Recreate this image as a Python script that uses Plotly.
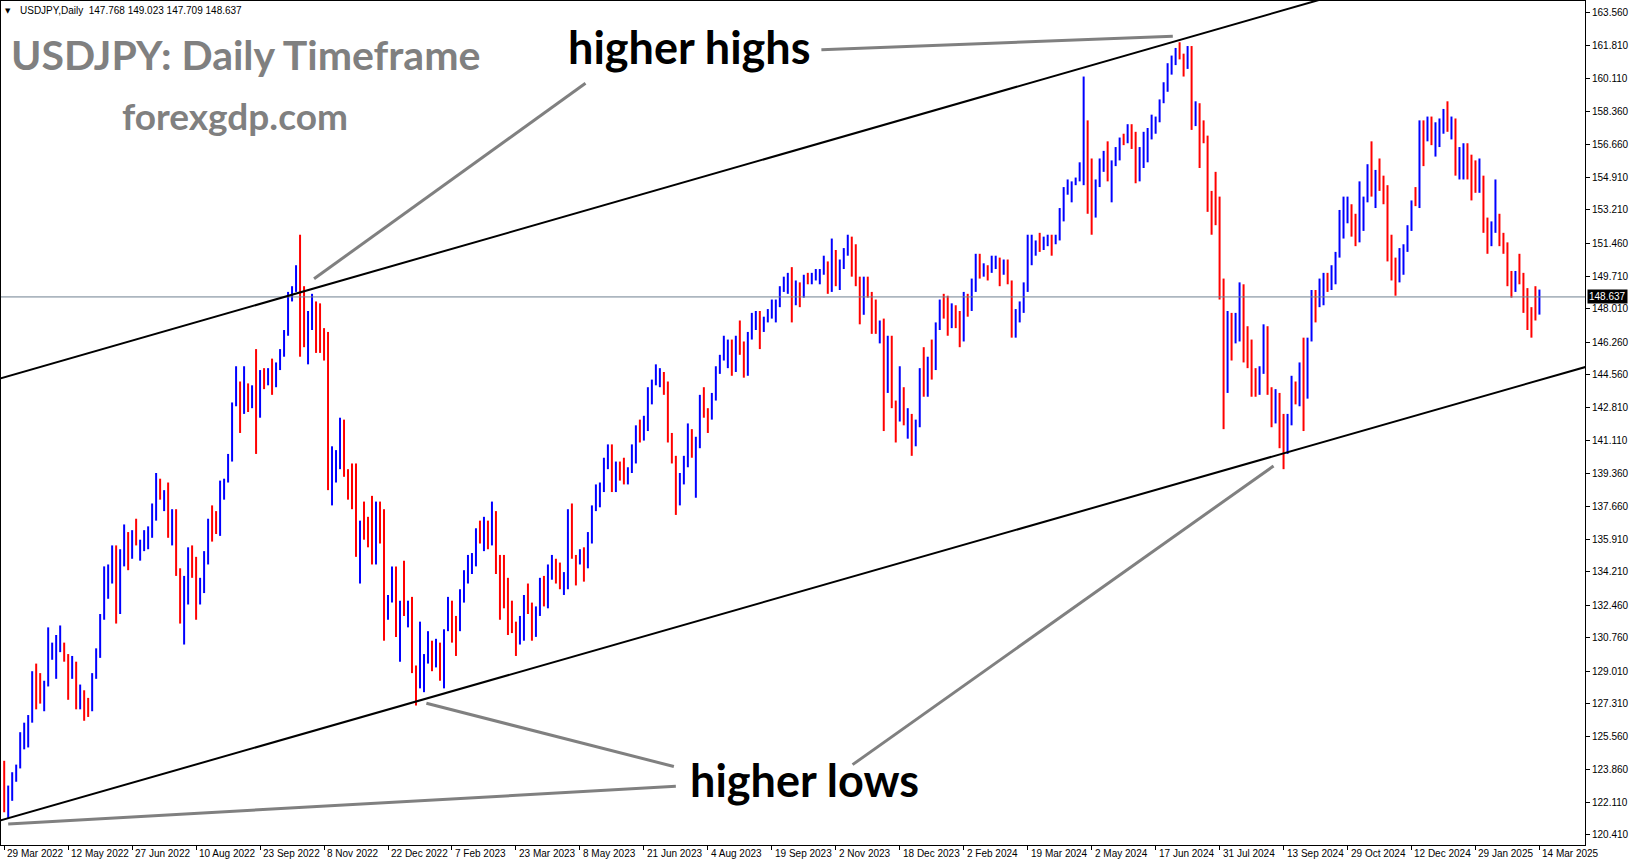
import plotly.graph_objects as go

# ---------------- data (USDJPY, each bar = 2 trading days) ----------------
date_labels = ["29 Mar 2022", "12 May 2022", "27 Jun 2022", "10 Aug 2022", "23 Sep 2022",
               "8 Nov 2022", "22 Dec 2022", "7 Feb 2023", "23 Mar 2023", "8 May 2023",
               "21 Jun 2023", "4 Aug 2023", "19 Sep 2023", "2 Nov 2023", "18 Dec 2023",
               "2 Feb 2024", "19 Mar 2024", "2 May 2024", "17 Jun 2024", "31 Jul 2024",
               "13 Sep 2024", "29 Oct 2024", "12 Dec 2024", "29 Jan 2025", "14 Mar 2025"]
bars_per_label = 16

price_ticks = [163.560, 161.810, 160.110, 158.360, 156.660, 154.910, 153.210, 151.460, 149.710,
               148.010, 146.260, 144.560, 142.810, 141.110, 139.360, 137.660, 135.910, 134.210,
               132.460, 130.760, 129.010, 127.310, 125.560, 123.860, 122.110, 120.410]

last_price = 148.637
header_text = "USDJPY,Daily\u00a0\u00a0147.768 149.023 147.709 148.637"

open_ = [
    123.8,121.8,122.5,123.6,124.0,125.4,125.6,126.4,128.9,128.4,128.1,128.4,129.8,130.1,130.2,130.3,
    129.9,129.2,129.4,127.8,127.9,127.3,127.1,128.7,129.9,131.9,134.2,134.4,135.5,132.2,135.1,136.2,
    135.2,136.1,135.7,135.8,135.9,136.1,137.4,138.9,138.2,138.3,136.1,137.0,134.3,131.6,133.8,135.0,
    134.2,133.0,133.3,134.9,136.9,136.8,136.6,138.8,139.0,140.2,143.0,144.1,142.8,143.1,142.9,143.7,
    142.4,144.7,144.2,144.7,144.1,145.1,145.6,146.8,148.7,149.0,150.1,148.9,146.4,147.5,148.2,148.0,
    146.6,146.4,138.8,139.3,140.2,141.8,139.5,139.2,138.7,135.3,136.7,136.6,136.5,135.6,137.8,136.9,
    132.4,132.9,134.4,131.1,132.4,132.1,132.2,129.2,128.5,128.9,129.6,130.2,130.1,130.4,128.9,131.2,
    132.6,131.4,131.3,133.1,133.9,134.2,134.9,136.4,136.2,136.8,135.9,137.3,135.0,134.2,133.7,131.5,
    131.4,130.7,130.9,132.7,132.5,131.3,132.2,133.7,132.6,134.5,134.7,134.2,133.7,134.0,137.4,135.0,
    134.8,135.2,134.5,136.1,137.6,137.9,138.6,139.9,140.4,139.3,139.9,139.6,139.0,139.6,140.0,141.8,
    141.5,141.9,143.5,144.2,144.3,144.5,144.1,141.3,140.1,138.8,139.0,140.1,141.5,140.4,141.2,143.3,
    142.6,142.5,143.4,144.9,145.5,146.1,146.2,144.8,146.4,145.9,145.5,146.5,147.7,147.8,147.1,147.4,
    147.6,148.3,148.4,149.0,149.3,149.8,149.0,149.3,148.7,149.8,149.5,149.8,149.9,150.0,150.4,149.1,
    150.9,149.4,150.4,151.0,151.7,151.3,149.6,148.4,149.5,148.7,147.2,146.8,147.2,144.1,145.9,142.9,
    142.2,143.8,142.1,142.4,141.5,142.0,144.6,144.2,145.1,144.9,147.2,148.2,148.1,147.5,148.1,147.6,
    146.4,148.7,148.0,149.3,150.8,149.9,150.1,150.0,150.5,150.6,149.9,150.5,149.4,147.1,147.7,148.3,
    149.1,151.2,151.4,151.5,151.3,151.6,151.7,151.6,151.8,153.2,154.2,154.4,154.6,154.8,155.6,156.4,
    155.0,152.9,154.6,155.5,156.2,154.9,155.7,156.2,156.9,156.8,157.6,157.2,154.8,155.6,157.0,157.2,
    157.4,157.9,158.9,159.7,160.8,160.9,161.5,161.3,160.8,161.7,157.8,158.3,157.4,157.0,153.9,153.7,
    152.7,149.4,144.2,146.7,146.6,146.8,149.2,146.4,145.2,144.4,143.9,144.9,146.9,143.7,142.3,143.4,
    142.4,140.6,142.3,143.9,143.2,144.8,143.6,146.4,148.7,148.2,148.6,149.7,149.2,149.5,150.8,152.3,
    153.3,153.4,152.9,151.6,152.9,153.7,155.4,154.3,154.6,154.5,154.2,151.1,149.8,149.6,150.1,151.2,
    152.3,153.6,153.5,157.4,157.1,157.9,156.9,157.5,157.6,158.3,157.7,157.9,155.2,155.6,156.5,156.0,
    155.5,154.3,154.7,152.6,151.4,152.1,152.9,151.5,151.4,149.3,149.0,149.8,149.5,149.0,148.0,147.8,
    147.768]
high = [
    124.3,123.0,123.7,124.1,125.8,126.3,126.7,129.0,129.4,128.9,128.5,131.3,130.5,130.9,131.4,130.5,
    129.9,129.8,129.5,128.3,128.0,127.6,128.9,130.2,132.0,134.5,134.6,135.6,135.6,135.4,136.7,136.3,
    136.4,137.0,135.9,136.4,136.6,137.8,139.4,139.1,138.5,138.9,137.5,137.5,134.4,134.0,135.5,135.6,
    135.0,133.9,135.3,137.0,137.7,137.4,139.0,139.1,140.4,143.1,145.0,144.2,145.0,144.1,144.0,145.9,
    144.8,144.9,144.9,145.4,145.2,145.9,146.9,148.9,149.2,150.3,151.9,149.2,147.9,148.8,148.4,148.3,
    147.0,146.8,140.8,140.6,142.3,142.2,139.6,139.9,139.9,136.9,137.9,137.1,138.2,137.9,137.9,137.5,
    133.0,134.5,134.5,132.7,134.8,132.7,132.9,129.3,131.6,129.9,131.1,130.6,130.7,130.5,131.2,132.9,
    132.7,131.9,133.3,134.3,135.1,135.2,136.5,136.9,137.1,136.9,137.9,137.4,135.1,135.1,133.9,132.7,
    131.6,131.9,133.0,133.6,132.6,132.4,133.9,134.0,134.6,135.1,134.9,134.7,134.2,137.5,137.8,135.1,
    135.4,135.5,136.3,137.7,138.8,138.9,140.2,140.9,140.9,140.0,140.0,140.2,139.7,140.9,141.9,142.2,
    142.4,143.9,144.3,145.1,144.9,144.7,144.2,141.5,140.3,139.4,140.3,142.0,141.7,141.3,143.5,143.9,
    142.8,143.6,145.0,145.6,146.6,146.4,146.4,146.6,147.4,146.3,146.8,147.8,147.9,147.9,147.6,148.0,
    148.5,148.5,149.2,149.7,149.9,150.2,149.5,149.4,149.8,149.9,149.9,150.1,150.1,150.8,150.5,151.7,
    151.1,150.6,151.2,151.9,151.8,151.4,149.7,149.7,149.7,148.9,148.5,147.4,147.5,146.6,146.6,143.2,
    145.0,143.9,142.8,142.5,142.2,144.9,146.0,145.5,146.4,147.3,148.5,148.8,148.7,148.3,148.2,147.9,
    148.9,148.8,149.6,150.9,150.9,150.4,150.3,150.8,150.8,150.7,150.6,150.6,149.5,148.0,148.4,149.4,
    151.9,151.9,151.6,152.0,151.8,151.9,151.9,151.9,153.3,154.4,154.8,154.7,154.9,155.7,160.2,157.9,
    155.9,154.8,155.9,156.3,156.8,155.8,156.5,157.0,157.2,157.7,157.7,157.3,156.5,157.3,157.5,158.2,
    158.1,159.0,159.9,160.9,161.3,161.7,162.0,161.4,161.8,161.8,158.9,158.8,157.9,157.1,154.2,155.2,
    153.9,149.6,147.9,147.8,147.8,149.4,149.3,147.1,146.4,144.9,145.0,147.2,147.1,143.9,143.8,143.6,
    142.5,142.5,144.5,144.2,145.2,146.5,146.5,149.0,149.0,149.6,149.9,149.9,150.3,151.0,153.2,153.9,
    153.9,153.5,153.0,154.7,153.9,155.6,156.8,155.3,155.9,155.0,154.5,151.9,150.7,151.2,151.4,152.4,
    153.7,154.4,157.9,157.9,158.1,158.1,157.8,158.0,158.5,158.9,158.1,158.0,156.5,156.7,156.7,156.1,
    155.8,155.9,155.0,152.8,152.6,154.8,153.0,152.0,151.5,150.0,150.0,150.9,149.9,149.1,148.1,149.2,
    149.023]
low = [
    121.6,121.3,122.2,123.2,123.9,124.9,125.0,126.3,127.0,127.3,126.9,128.2,129.6,128.6,130.0,129.5,
    127.5,128.6,127.0,127.0,126.4,126.6,126.9,128.6,129.7,131.7,132.8,133.6,131.5,132.0,134.5,134.3,
    134.9,135.6,134.8,135.3,135.4,136.0,136.9,138.0,137.4,136.0,135.6,134.0,131.5,130.4,132.5,133.9,
    131.7,132.5,133.1,134.6,135.8,136.2,136.1,138.0,138.9,140.0,142.9,141.5,142.5,142.6,142.8,140.4,
    142.3,143.8,144.0,143.5,143.9,144.8,145.5,146.6,148.4,148.9,145.5,146.0,145.1,146.9,145.7,145.7,
    145.3,138.5,137.7,138.9,139.6,139.2,138.0,137.5,135.0,133.6,135.9,135.5,134.6,134.6,135.7,130.6,
    131.7,132.6,130.8,129.5,131.9,131.3,128.9,127.2,128.1,127.9,129.4,129.0,129.2,128.5,128.1,131.1,
    130.5,129.8,131.1,132.6,133.6,134.1,134.5,135.7,135.3,135.4,135.6,134.1,131.7,132.3,130.9,131.0,
    129.8,130.4,130.6,132.0,130.6,130.8,131.9,132.4,132.3,133.8,133.6,133.3,133.0,133.3,134.9,133.5,
    134.6,133.7,134.4,135.7,137.4,137.6,138.4,139.6,138.4,138.4,139.0,138.8,138.8,139.4,139.9,141.0,
    141.1,141.6,143.0,144.0,143.9,143.5,141.0,139.9,137.2,137.7,138.8,139.7,140.2,138.1,140.7,142.3,
    141.5,142.2,143.2,144.6,145.3,144.9,144.5,144.7,145.6,144.4,144.5,146.4,146.9,145.9,146.8,147.3,
    147.5,147.3,148.1,148.9,148.8,147.3,148.2,148.1,148.6,149.3,149.3,149.5,149.3,149.8,148.8,148.9,
    149.2,149.0,150.1,150.8,149.7,149.2,147.2,147.7,148.6,146.7,146.7,146.2,141.6,143.6,142.8,141.0,
    142.1,141.9,141.2,140.3,140.8,141.8,143.4,143.4,144.3,144.8,146.9,147.5,146.6,147.0,147.0,146.0,
    146.3,147.6,147.9,148.9,149.6,149.7,149.5,149.9,150.1,149.2,149.8,149.3,146.5,146.5,147.3,147.8,
    148.9,150.3,150.8,151.0,151.1,151.3,150.8,151.4,151.6,152.6,154.0,153.6,154.5,154.7,154.5,153.0,
    151.9,152.8,154.4,155.2,154.7,153.6,155.5,155.8,156.6,156.7,156.4,154.6,154.7,155.4,155.7,156.9,
    157.2,157.8,158.8,159.4,160.3,160.8,161.1,160.2,160.6,157.4,157.6,155.4,156.7,153.1,151.9,152.4,
    148.5,141.7,143.6,145.3,146.2,146.3,145.2,144.9,143.4,143.4,143.5,144.6,143.5,141.8,142.0,140.7,
    139.6,140.4,141.9,143.0,142.9,141.6,143.3,146.3,147.3,148.1,148.2,148.9,149.0,149.3,150.7,151.7,
    152.5,151.8,151.3,151.5,152.1,153.6,153.9,153.3,154.2,153.5,150.5,149.5,148.7,149.4,149.8,151.0,
    152.1,153.4,153.3,155.5,156.8,156.6,156.0,156.5,157.2,157.3,156.9,155.0,154.8,154.8,154.8,153.7,
    154.1,154.1,152.0,150.9,151.3,152.0,151.3,150.9,149.2,148.6,148.9,149.3,147.8,146.9,146.5,147.4,
    147.709]
close = [
    121.8,122.5,123.6,124.0,125.4,125.6,126.4,128.9,128.4,128.1,128.4,129.8,130.1,130.2,130.3,129.9,
    129.2,129.4,127.8,127.9,127.3,127.1,128.7,129.9,131.9,134.2,134.4,135.5,132.2,135.1,136.2,135.2,
    136.1,135.7,135.8,135.9,136.1,137.4,138.9,138.2,138.3,136.1,137.0,134.3,131.6,133.8,135.0,134.2,
    133.0,133.3,134.9,136.9,136.8,136.6,138.8,139.0,140.2,143.0,144.1,142.8,143.1,142.9,143.7,142.4,
    144.7,144.2,144.7,144.1,145.1,145.6,146.8,148.7,149.0,150.1,148.9,146.4,147.5,148.2,148.0,146.6,
    146.4,138.8,139.3,140.2,141.8,139.5,139.2,138.7,135.3,136.7,136.6,136.5,135.6,137.8,136.9,132.4,
    132.9,134.4,131.1,132.4,132.1,132.2,129.2,128.5,128.9,129.6,130.2,130.1,130.4,128.9,131.2,132.6,
    131.4,131.3,133.1,133.9,134.2,134.9,136.4,136.2,136.8,135.9,137.3,135.0,134.2,133.7,131.5,131.4,
    130.7,130.9,132.7,132.5,131.3,132.2,133.7,132.6,134.5,134.7,134.2,133.7,134.0,137.4,135.0,134.8,
    135.2,134.5,136.1,137.6,137.9,138.6,139.9,140.4,139.3,139.9,139.6,139.0,139.6,140.0,141.8,141.5,
    141.9,143.5,144.2,144.3,144.5,144.1,141.3,140.1,138.8,139.0,140.1,141.5,140.4,141.2,143.3,142.6,
    142.5,143.4,144.9,145.5,146.1,146.2,144.8,146.4,145.9,145.5,146.5,147.7,147.8,147.1,147.4,147.6,
    148.3,148.4,149.0,149.3,149.8,149.0,149.3,148.7,149.8,149.5,149.8,149.9,150.0,150.4,149.1,150.9,
    149.4,150.4,151.0,151.7,151.3,149.6,148.4,149.5,148.7,147.2,146.8,147.2,144.1,145.9,142.9,142.2,
    143.8,142.1,142.4,141.5,142.0,144.6,144.2,145.1,144.9,147.2,148.2,148.1,147.5,148.1,147.6,146.4,
    148.7,148.0,149.3,150.8,149.9,150.1,150.0,150.5,150.6,149.9,150.5,149.4,147.1,147.7,148.3,149.1,
    151.2,151.4,151.5,151.3,151.6,151.7,151.6,151.8,153.2,154.2,154.4,154.6,154.8,155.6,156.4,155.0,
    152.9,154.6,155.5,156.2,154.9,155.7,156.2,156.9,156.8,157.6,157.2,154.8,155.6,157.0,157.2,157.4,
    157.9,158.9,159.7,160.8,160.9,161.5,161.3,160.8,161.7,157.8,158.3,157.4,157.0,153.9,153.7,152.7,
    149.4,144.2,146.7,146.6,146.8,149.2,146.4,145.2,144.4,143.9,144.9,146.9,143.7,142.3,143.4,142.4,
    140.6,142.3,143.9,143.2,144.8,143.6,146.4,148.7,148.2,148.6,149.7,149.2,149.5,150.8,152.3,153.3,
    153.4,152.9,151.6,152.9,153.7,155.4,154.3,154.6,154.5,154.2,151.1,149.8,149.6,150.1,151.2,152.3,
    153.6,153.5,157.4,157.1,157.9,156.9,157.5,157.6,158.3,157.7,157.9,155.2,155.6,156.5,156.0,155.5,
    154.3,154.7,152.6,151.4,152.1,152.9,151.5,151.4,149.3,149.0,149.8,149.5,149.0,148.0,147.8,147.77,
    148.637]

# analyst drawings, as (bar index, price) anchor pairs
channel_upper = [(-0.3, 144.40), (326.1, 164.05)]
channel_lower = [(-0.3, 121.21), (395.3, 144.95)]
pointer_lines = [
    [(77.5, 149.59), (145.4, 159.85)],
    [(204.4, 161.60), (292.3, 162.31)],
    [(105.6, 127.32), (167.5, 124.00)],
    [(1.0, 120.99), (168.0, 122.96)],
    [(212.2, 124.10), (317.5, 139.77)],
]

# ---------------- geometry ----------------
W, H = 1631, 861
PL, PR, PT, PB = 1, 1585, 1, 845
X_RANGE = [-0.8, 395.4]
Y_RANGE = [119.882, 164.163]


def pxx(px):
    return (px - PL) / (PR - PL)


def pxy(py):
    return 1 - (py - PT) / (PB - PT)


def extend(pts, x0, x1):
    (xa, ya), (xb, yb) = pts
    s = (yb - ya) / (xb - xa)
    return [x0, x1], [ya + s * (x0 - xa), ya + s * (x1 - xa)]


idx = list(range(len(close)))
AX_FONT = dict(family="Liberation Sans, Arial, sans-serif", size=10, color="black")

fig = go.Figure()

# bid line
fig.add_trace(go.Scatter(x=X_RANGE, y=[last_price, last_price], mode="lines",
                         line=dict(color="#708090", width=1), hoverinfo="skip"))

fig.add_trace(go.Ohlc(x=idx, open=open_, high=high, low=low, close=close,
                      increasing=dict(line=dict(color="#0000ff", width=2)),
                      decreasing=dict(line=dict(color="#ff0000", width=2)),
                      tickwidth=0, hoverinfo="skip"))

for pts in (channel_upper, channel_lower):
    xs, ys = extend(pts, -2, 400)
    fig.add_trace(go.Scatter(x=xs, y=ys, mode="lines", line=dict(color="black", width=2),
                             hoverinfo="skip"))

for seg in pointer_lines:
    fig.add_trace(go.Scatter(x=[seg[0][0], seg[1][0]], y=[seg[0][1], seg[1][1]], mode="lines",
                             line=dict(color="#808080", width=3), hoverinfo="skip"))

annotations = []
# date labels (left-aligned at tick, MT4 style)
for k, lab in enumerate(date_labels):
    annotations.append(dict(x=k * bars_per_label, xref="x", y=0, yref="paper", text=lab,
                            xanchor="left", yanchor="top", xshift=1, yshift=-1,
                            showarrow=False, font=AX_FONT))
# current price box
annotations.append(dict(x=1, xref="paper", y=last_price, yref="y", text=f"{last_price:.3f}",
                        xanchor="left", yanchor="middle", xshift=2, showarrow=False,
                        bgcolor="black", borderpad=1,
                        font=dict(family=AX_FONT["family"], size=10, color="white")))
# header
annotations.append(dict(x=pxx(8), xref="paper", y=pxy(11), yref="paper", text="\u25bc",
                        xanchor="center", yanchor="middle", showarrow=False,
                        font=dict(family="DejaVu Sans", size=7, color="black")))
annotations.append(dict(x=pxx(18), xref="paper", y=pxy(11), yref="paper", text=header_text,
                        xanchor="left", yanchor="middle", showarrow=False, font=AX_FONT))

BIG = "Lato, Open Sans, sans-serif"
annotations.append(dict(x=pxx(9), xref="paper", y=pxy(55), yref="paper",
                        text="<b>USDJPY: Daily Timeframe</b>", xanchor="left", yanchor="middle",
                        showarrow=False, font=dict(family=BIG, size=41, color="#808080")))
annotations.append(dict(x=pxx(120), xref="paper", y=pxy(116), yref="paper",
                        text="<b>forexgdp.com</b>", xanchor="left", yanchor="middle",
                        showarrow=False, font=dict(family=BIG, size=37, color="#808080")))
annotations.append(dict(x=pxx(566), xref="paper", y=pxy(47), yref="paper",
                        text="<b>higher highs</b>", xanchor="left", yanchor="middle",
                        showarrow=False, font=dict(family=BIG, size=45, color="black")))
annotations.append(dict(x=pxx(688), xref="paper", y=pxy(780), yref="paper",
                        text="<b>higher lows</b>", xanchor="left", yanchor="middle",
                        showarrow=False, font=dict(family=BIG, size=45, color="black")))

fig.update_layout(
    width=W, height=H,
    margin=dict(l=PL, r=W - PR, t=PT, b=H - PB, pad=0),
    paper_bgcolor="white", plot_bgcolor="white",
    showlegend=False,
    annotations=annotations,
    xaxis=dict(range=X_RANGE, showgrid=False, zeroline=False, showline=True, mirror=True,
               linecolor="black", linewidth=1, ticks="outside", ticklen=4, tickcolor="black",
               tickvals=[k * bars_per_label for k in range(len(date_labels))],
               showticklabels=False, rangeslider=dict(visible=False), fixedrange=True),
    yaxis=dict(range=Y_RANGE, side="right", showgrid=False, zeroline=False, showline=True,
               mirror=True, linecolor="black", linewidth=1, ticks="outside", ticklen=4,
               tickcolor="black", tickvals=price_ticks,
               ticktext=[f"{v:.3f}" for v in price_ticks], tickfont=AX_FONT, fixedrange=True),
)

fig.write_html("out.html", config={"displayModeBar": False},
               post_script="document.body.style.margin='0';"
                           "document.body.style.overflow='hidden';")
